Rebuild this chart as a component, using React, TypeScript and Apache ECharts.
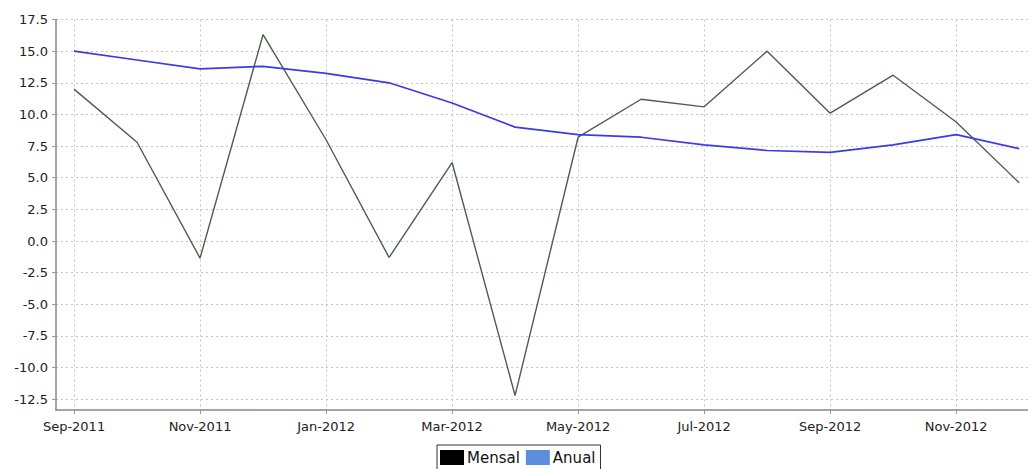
import React, { useEffect, useRef } from "react";
import * as echarts from "echarts";

const months = [
  "Sep-2011", "Oct-2011", "Nov-2011", "Dec-2011", "Jan-2012", "Feb-2012",
  "Mar-2012", "Apr-2012", "May-2012", "Jun-2012", "Jul-2012", "Aug-2012",
  "Sep-2012", "Oct-2012", "Nov-2012", "Dec-2012",
];
const mensal = [12.0, 7.8, -1.35, 16.3, 8.0, -1.3, 6.2, -12.2, 8.2, 11.2, 10.6, 15.0, 10.1, 13.1, 9.4, 4.6];
const anual = [15.0, 14.3, 13.6, 13.8, 13.25, 12.5, 10.9, 9.0, 8.4, 8.2, 7.6, 7.15, 7.0, 7.6, 8.4, 7.3];
const xTickIdx = [0, 2, 4, 6, 8, 10, 12, 14];
const yTicks = [-12.5, -10, -7.5, -5, -2.5, 0, 2.5, 5, 7.5, 10, 12.5, 15, 17.5];

export default function App() {
  const ref = useRef<HTMLDivElement>(null);
  useEffect(() => {
    if (!ref.current) return;
    const chart = echarts.init(ref.current, null, { renderer: "svg" });
    const font = "DejaVu Sans";
    chart.setOption({
      animation: false,
      backgroundColor: "#ffffff",
      grid: { left: 56, top: 19.5, right: 0, bottom: 59, containLabel: false },
      xAxis: {
        type: "value",
        min: -0.286,
        max: 15.14,
        axisLine: { show: true, onZero: false, lineStyle: { color: "#888", width: 1.5 } },
        axisTick: { show: true, length: 4, customValues: xTickIdx, lineStyle: { color: "#999" } },
        axisLabel: {
          customValues: xTickIdx,
          formatter: (v: number) => months[Math.round(v)] ?? "",
          fontFamily: font,
          fontSize: 13,
          color: "#222",
          margin: 10,
        },
        splitLine: { show: true, lineStyle: { color: "#c4c4c4", type: [2, 3], width: 1 } },
      },
      yAxis: {
        type: "value",
        min: -13.35,
        max: 17.5,
        axisLine: { show: true, onZero: false, lineStyle: { color: "#888", width: 1.5 } },
        axisTick: { show: true, length: 4, customValues: yTicks, lineStyle: { color: "#999" } },
        axisLabel: {
          customValues: yTicks,
          formatter: (v: number) => v.toFixed(1),
          fontFamily: font,
          fontSize: 13,
          color: "#222",
          margin: 8,
        },
        splitLine: { show: true, lineStyle: { color: "#c4c4c4", type: [2, 3], width: 1 } },
      },
      legend: {
        bottom: -4,
        left: 437,
        orient: "horizontal",
        icon: "rect",
        itemWidth: 24,
        itemHeight: 15,
        itemGap: 6,
        padding: [5, 5, 8, 3],
        borderColor: "#333",
        borderWidth: 1,
        textStyle: { fontFamily: font, fontSize: 15, color: "#111", padding: [0, 0, 0, -2] },
        data: ["Mensal", "Anual"],
      },
      series: [
        {
          name: "Mensal",
          type: "line",
          symbol: "none",
          data: mensal.map((v, i) => [i, v]),
          itemStyle: { color: "#000000" },
          lineStyle: { color: "#4b5e4b", width: 1.4 },
          z: 3,
        },
        {
          name: "Anual",
          type: "line",
          symbol: "none",
          data: anual.map((v, i) => [i, v]),
          itemStyle: { color: "#5b8fde" },
          lineStyle: { color: "#3a3ae6", width: 1.7 },
          z: 4,
        },
      ],
    });
    return () => chart.dispose();
  }, []);
  return (
    <div
      ref={ref}
      style={{ position: "absolute", left: 0, top: 0, width: 1028, height: 469 }}
    />
  );
}
